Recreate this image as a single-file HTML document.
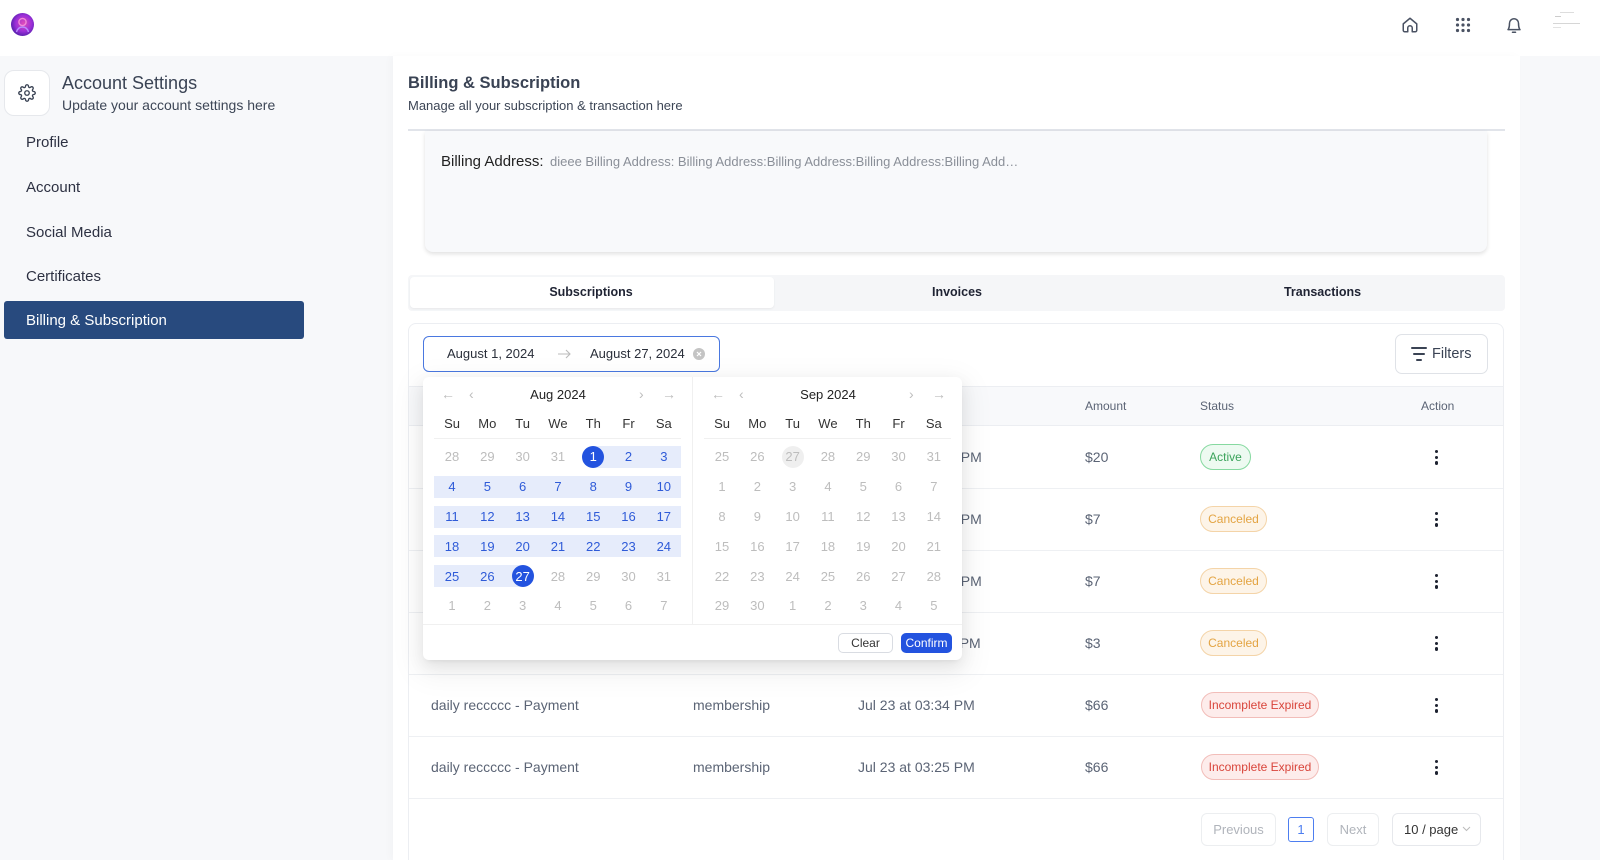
<!DOCTYPE html>
<html><head><meta charset="utf-8"><style>
*{box-sizing:border-box;margin:0;padding:0}
html,body{width:1600px;height:860px;overflow:hidden}
body{background:#f7f8fa;font-family:"Liberation Sans",Arial,sans-serif;color:#333c4e}
#root{position:relative;width:1600px;height:860px;overflow:hidden;background:#f7f8fa}
.a{position:absolute;white-space:nowrap}
.t{position:absolute;white-space:nowrap;line-height:20px;height:20px}
.g{position:absolute;display:grid;grid-template-columns:repeat(7,35.3px);grid-auto-rows:29.8px;font-size:13px;color:#bdbdbd}
.g span{display:flex;align-items:center;justify-content:center}
.g .b{color:#2f5bd8}
.sel{width:22px;height:22px;border-radius:50%;background:#2353df;color:#fff;display:flex;align-items:center;justify-content:center;font-style:normal}
.tod{width:22px;height:22px;border-radius:50%;background:#efefef;color:#bdbdbd;display:flex;align-items:center;justify-content:center;font-style:normal}
.wk{position:absolute;display:grid;grid-template-columns:repeat(7,35.3px);height:30px;font-size:13px;color:#333}
.wk span{display:flex;align-items:center;justify-content:center}
.bar{position:absolute;height:22px;background:#e6ecfb}
.hd{position:absolute;font-size:12px;color:#5b6475;line-height:20px;top:396px}
.cell{position:absolute;font-size:14px;color:#5b6475;line-height:20px}
.badge{position:absolute;height:26px;border-radius:13px;font-size:12px;line-height:24px;text-align:center;border:1px solid}
.act{border-color:#86d9a0;background:#edfaf1;color:#3aa35a}
.can{border-color:#f4d4a8;background:#fdf4e8;color:#e3a443}
.inc{border-color:#f2bdb9;background:#fdeceb;color:#d9453b}
.dots{position:absolute;width:4px;left:1434.5px}
.dots i{display:block;width:3.4px;height:3.4px;border-radius:50%;background:#1d2230;margin-bottom:2.3px}
.rl{position:absolute;left:409px;width:1094px;height:1px;background:#eef0f3}
.nav{position:absolute;font-size:14px;color:#bdbdbd;line-height:16px}
</style></head><body><div id="root">

<!-- top header -->
<div class="a" style="left:0;top:0;width:1600px;height:56px;background:#fff"></div>
<div class="a" style="left:11px;top:13px;width:23px;height:23px;border-radius:50%;background:radial-gradient(circle at 55% 45%,#e04ab8 0%,#9b2fd8 45%,#3a1a9a 85%,#23105e 100%)"></div>
<svg class="a" style="left:10px;top:12px" width="25" height="25" viewBox="0 0 25 25"><circle cx="12.5" cy="10" r="3.6" fill="none" stroke="#f08ad8" stroke-width="1.4"/><path d="M6.5 20c1-3.5 3.3-5 6-5s5 1.5 6 5" fill="none" stroke="#b98cff" stroke-width="1.4"/></svg>

<svg class="a" style="left:1401px;top:16px" width="18" height="18" viewBox="0 0 24 24" fill="none" stroke="#4a5263" stroke-width="2" stroke-linejoin="round" stroke-linecap="round"><path d="M3 10.5 12 3l9 7.5V19a2 2 0 0 1-2 2h-4v-5a3 3 0 0 0-6 0v5H5a2 2 0 0 1-2-2z"/></svg>
<svg class="a" style="left:1455px;top:17px" width="16" height="16" viewBox="0 0 16 16" fill="#4a5263"><circle cx="2.5" cy="2.5" r="1.6"/><circle cx="8" cy="2.5" r="1.6"/><circle cx="13.5" cy="2.5" r="1.6"/><circle cx="2.5" cy="8" r="1.6"/><circle cx="8" cy="8" r="1.6"/><circle cx="13.5" cy="8" r="1.6"/><circle cx="2.5" cy="13.5" r="1.6"/><circle cx="8" cy="13.5" r="1.6"/><circle cx="13.5" cy="13.5" r="1.6"/></svg>
<svg class="a" style="left:1505px;top:16px" width="18" height="19" viewBox="0 0 24 24" fill="none" stroke="#4a5263" stroke-width="2" stroke-linecap="round" stroke-linejoin="round"><path d="M18 9A6 6 0 0 0 6 9c0 6.5-2 8.5-2 8.5h16s-2-2-2-8.5"/><path d="M10 21h4"/></svg>
<div class="a" style="left:1560px;top:12px;width:14px;height:1px;background:#ddd"></div>
<div class="a" style="left:1555px;top:16px;width:6px;height:1px;background:#ccc"></div>
<div class="a" style="left:1553px;top:23px;width:27px;height:1px;background:#d6d6d6"></div>
<div class="a" style="left:1553px;top:27px;width:8px;height:1px;background:#e2e2e2"></div>

<!-- sidebar -->
<div class="a" style="left:4px;top:70px;width:46px;height:46px;border-radius:10px;background:#fff;border:1px solid #e6e8ec"></div>
<svg class="a" style="left:18px;top:84px" width="18" height="18" viewBox="0 0 24 24" fill="none" stroke="#3a4354" stroke-width="1.8" stroke-linecap="round" stroke-linejoin="round"><circle cx="12" cy="12" r="3"/><path d="M19.4 15a1.65 1.65 0 0 0 .33 1.82l.06.06a2 2 0 0 1 0 2.83 2 2 0 0 1-2.83 0l-.06-.06a1.65 1.65 0 0 0-1.82-.33 1.65 1.65 0 0 0-1 1.51V21a2 2 0 0 1-2 2 2 2 0 0 1-2-2v-.09A1.65 1.65 0 0 0 9 19.4a1.65 1.65 0 0 0-1.82.33l-.06.06a2 2 0 0 1-2.83 0 2 2 0 0 1 0-2.83l.06-.06a1.65 1.65 0 0 0 .33-1.82 1.65 1.65 0 0 0-1.51-1H3a2 2 0 0 1-2-2 2 2 0 0 1 2-2h.09A1.65 1.65 0 0 0 4.6 9a1.65 1.65 0 0 0-.33-1.82l-.06-.06a2 2 0 0 1 0-2.83 2 2 0 0 1 2.83 0l.06.06a1.65 1.65 0 0 0 1.82.33H9a1.65 1.65 0 0 0 1-1.51V3a2 2 0 0 1 2-2 2 2 0 0 1 2 2v.09a1.65 1.65 0 0 0 1 1.51 1.65 1.65 0 0 0 1.82-.33l.06-.06a2 2 0 0 1 2.83 0 2 2 0 0 1 0 2.83l-.06.06a1.65 1.65 0 0 0-.33 1.82V9a1.65 1.65 0 0 0 1.51 1H21a2 2 0 0 1 2 2 2 2 0 0 1-2 2h-.09a1.65 1.65 0 0 0-1.51 1z"/></svg>
<div class="t" style="left:62px;top:73px;font-size:18px;color:#3a4354">Account Settings</div>
<div class="t" style="left:62px;top:95px;font-size:14px;color:#3d4656">Update your account settings here</div>
<div class="t" style="left:26px;top:133px;font-size:15px;color:#2d3142">Profile</div>
<div class="t" style="left:26px;top:177.5px;font-size:15px;color:#2d3142">Account</div>
<div class="t" style="left:26px;top:222.5px;font-size:15px;color:#2d3142">Social Media</div>
<div class="t" style="left:26px;top:267px;font-size:15px;color:#2d3142">Certificates</div>
<div class="a" style="left:4px;top:301px;width:300px;height:38px;background:#284a7e;border-radius:3px"></div>
<div class="t" style="left:26px;top:311px;font-size:15px;color:#fff">Billing &amp; Subscription</div>

<!-- main panel -->
<div class="a" style="left:393px;top:56px;width:1127px;height:804px;background:#fff;box-shadow:-3px 0 8px rgba(0,0,0,0.025)"></div>
<div class="t" style="left:408px;top:73px;font-size:16.5px;font-weight:bold;color:#3a4354">Billing &amp; Subscription</div>
<div class="t" style="left:408px;top:96px;font-size:13px;color:#3d4656">Manage all your subscription &amp; transaction here</div>
<div class="a" style="left:408px;top:129px;width:1097px;height:2px;background:#e1e4ea"></div>

<div class="a" style="left:425px;top:131px;width:1062px;height:121px;background:#f8f9fb;border-radius:0 0 8px 8px;box-shadow:0 2px 4px rgba(0,0,0,0.12)"></div>
<div class="t" style="left:441px;top:152px;font-size:15px;color:#222">Billing Address:</div>
<div class="t" style="left:550px;top:152px;font-size:13px;color:#8a8f98;width:470px;overflow:hidden;text-overflow:ellipsis">dieee Billing Address: Billing Address:Billing Address:Billing Address:Billing Address:Billing Address</div>

<!-- tabs -->
<div class="a" style="left:408px;top:275px;width:1097px;height:36px;background:#f5f6f8;border-radius:4px"></div>
<div class="a" style="left:410px;top:277px;width:364px;height:31px;background:#fff;border-radius:4px;box-shadow:0 1px 2px rgba(0,0,0,0.06)"></div>
<div class="t" style="left:408px;top:282px;width:366px;text-align:center;font-size:12.5px;font-weight:bold;color:#1f2333">Subscriptions</div>
<div class="t" style="left:774px;top:282px;width:366px;text-align:center;font-size:12.5px;font-weight:bold;color:#1f2333">Invoices</div>
<div class="t" style="left:1140px;top:282px;width:365px;text-align:center;font-size:12.5px;font-weight:bold;color:#1f2333">Transactions</div>

<!-- table card -->
<div class="a" style="left:408px;top:323px;width:1096px;height:537px;border:1px solid #eceef2;border-bottom:none;border-radius:8px 8px 0 0;background:#fff"></div>
<div class="a" style="left:1395px;top:334px;width:93px;height:40px;border:1px solid #dfe2e7;border-radius:7px;background:#fff"></div>
<div class="a" style="left:1411px;top:347px;width:16px;height:2px;background:#3a4354;border-radius:1px"></div>
<div class="a" style="left:1413px;top:353px;width:12px;height:2px;background:#3a4354;border-radius:1px"></div>
<div class="a" style="left:1416px;top:359px;width:6px;height:2px;background:#3a4354;border-radius:1px"></div>
<div class="t" style="left:1432px;top:344px;font-size:14.5px;color:#3a4354">Filters</div>

<div class="a" style="left:409px;top:386px;width:1094px;height:40px;background:#f8f9fb;border-top:1px solid #eceef2;border-bottom:1px solid #eceef2"></div>
<div class="hd" style="left:431px">Name</div>
<div class="hd" style="left:693px">Type</div>
<div class="hd" style="left:858px">Date</div>
<div class="hd" style="left:1085px">Amount</div>
<div class="hd" style="left:1200px">Status</div>
<div class="hd" style="left:1421px">Action</div>

<div class="rl" style="top:488px"></div>
<div class="rl" style="top:550px"></div>
<div class="rl" style="top:612px"></div>
<div class="rl" style="top:674px"></div>
<div class="rl" style="top:736px"></div>
<div class="rl" style="top:798px"></div>

<!-- rows -->
<div class="cell" style="left:431px;top:447px">daily reccccc - Payment</div>
<div class="cell" style="left:693px;top:447px">membership</div>
<div class="cell" style="left:858px;top:447px">Aug 27 at 10:14 PM</div>
<div class="cell" style="left:1085px;top:447px">$20</div>
<div class="badge act" style="left:1200px;top:444px;width:51px">Active</div>
<div class="dots" style="top:450px"><i></i><i></i><i></i></div>

<div class="cell" style="left:431px;top:509px">daily reccccc - Payment</div>
<div class="cell" style="left:693px;top:509px">membership</div>
<div class="cell" style="left:858px;top:509px">Aug 27 at 10:12 PM</div>
<div class="cell" style="left:1085px;top:509px">$7</div>
<div class="badge can" style="left:1200px;top:506px;width:67px">Canceled</div>
<div class="dots" style="top:512px"><i></i><i></i><i></i></div>

<div class="cell" style="left:431px;top:571px">daily reccccc - Payment</div>
<div class="cell" style="left:693px;top:571px">membership</div>
<div class="cell" style="left:858px;top:571px">Aug 27 at 10:10 PM</div>
<div class="cell" style="left:1085px;top:571px">$7</div>
<div class="badge can" style="left:1200px;top:568px;width:67px">Canceled</div>
<div class="dots" style="top:574px"><i></i><i></i><i></i></div>

<div class="cell" style="left:431px;top:633px">daily reccccc - Payment</div>
<div class="cell" style="left:693px;top:633px">membership</div>
<div class="cell" style="left:858px;top:633px">Aug 26 at 11:10 PM</div>
<div class="cell" style="left:1085px;top:633px">$3</div>
<div class="badge can" style="left:1200px;top:630px;width:67px">Canceled</div>
<div class="dots" style="top:636px"><i></i><i></i><i></i></div>

<div class="cell" style="left:431px;top:695px">daily reccccc - Payment</div>
<div class="cell" style="left:693px;top:695px">membership</div>
<div class="cell" style="left:858px;top:695px">Jul 23 at 03:34 PM</div>
<div class="cell" style="left:1085px;top:695px">$66</div>
<div class="badge inc" style="left:1201px;top:692px;width:118px">Incomplete Expired</div>
<div class="dots" style="top:698px"><i></i><i></i><i></i></div>

<div class="cell" style="left:431px;top:757px">daily reccccc - Payment</div>
<div class="cell" style="left:693px;top:757px">membership</div>
<div class="cell" style="left:858px;top:757px">Jul 23 at 03:25 PM</div>
<div class="cell" style="left:1085px;top:757px">$66</div>
<div class="badge inc" style="left:1201px;top:754px;width:118px">Incomplete Expired</div>
<div class="dots" style="top:760px"><i></i><i></i><i></i></div>

<!-- pagination -->
<div class="a" style="left:1201px;top:813px;width:75px;height:33px;border:1px solid #eceef0;border-radius:6px;font-size:13px;color:#b0b4bb;line-height:31px;text-align:center">Previous</div>
<div class="a" style="left:1288px;top:817px;width:26px;height:25px;border:1px solid #4d7ef0;border-radius:3px;font-size:13px;color:#4d7ef0;line-height:23px;text-align:center">1</div>
<div class="a" style="left:1327px;top:813px;width:52px;height:33px;border:1px solid #eceef0;border-radius:6px;font-size:13px;color:#b0b4bb;line-height:31px;text-align:center">Next</div>
<div class="a" style="left:1392px;top:813px;width:89px;height:33px;border:1px solid #e6e8ec;border-radius:6px;font-size:13px;color:#333;line-height:31px;padding-left:11px">10 / page</div>
<svg class="a" style="left:1462px;top:826px" width="9" height="6" viewBox="0 0 9 6"><path d="M1 1l3.5 3.5L8 1" fill="none" stroke="#bbb" stroke-width="1"/></svg>

<!-- date range input -->
<div class="a" style="left:423px;top:336px;width:297px;height:36px;border:1px solid #4a78e0;border-radius:6px;background:#fff"></div>
<div class="t" style="left:447px;top:344px;font-size:13px;color:#2a2f3a">August 1, 2024</div>
<svg class="a" style="left:557px;top:349px" width="14" height="10" viewBox="0 0 14 10"><path d="M1 5h12M9 1l4 4-4 4" fill="none" stroke="#bbb" stroke-width="1.1"/></svg>
<div class="t" style="left:590px;top:344px;font-size:13px;color:#2a2f3a">August 27, 2024</div>
<div class="a" style="left:693px;top:348px;width:12px;height:12px;border-radius:50%;background:#c4c4c4"></div>
<svg class="a" style="left:693px;top:348px" width="12" height="12" viewBox="0 0 12 12"><path d="M4 4l4 4M8 4l-4 4" stroke="#fff" stroke-width="1.2"/></svg>

<!-- calendar popup -->
<div class="a" style="left:423px;top:377px;width:539px;height:283px;background:#fff;border-radius:6px;box-shadow:0 6px 16px 0 rgba(0,0,0,.08),0 3px 6px -4px rgba(0,0,0,.12),0 9px 28px 8px rgba(0,0,0,.05)"></div>
<div class="a" style="left:692px;top:377px;width:1px;height:247px;background:#f0f0f0"></div>
<div class="a" style="left:423px;top:624px;width:539px;height:1px;background:#f0f0f0"></div>
<div class="a" style="left:434px;top:438px;width:247px;height:1px;background:#f0f0f0"></div>
<div class="a" style="left:704px;top:438px;width:247px;height:1px;background:#f0f0f0"></div>

<div class="nav" style="left:441px;top:386px">&#8592;</div>
<div class="nav" style="left:469px;top:386px">&#8249;</div>
<div class="t" style="left:508px;top:385px;width:100px;text-align:center;font-size:13px;color:#222">Aug 2024</div>
<div class="nav" style="left:639px;top:386px">&#8250;</div>
<div class="nav" style="left:662px;top:386px">&#8594;</div>

<div class="nav" style="left:711px;top:386px">&#8592;</div>
<div class="nav" style="left:739px;top:386px">&#8249;</div>
<div class="t" style="left:778px;top:385px;width:100px;text-align:center;font-size:13px;color:#222">Sep 2024</div>
<div class="nav" style="left:909px;top:386px">&#8250;</div>
<div class="nav" style="left:932px;top:386px">&#8594;</div>

<div class="wk" style="left:434.4px;top:408px"><span>Su</span><span>Mo</span><span>Tu</span><span>We</span><span>Th</span><span>Fr</span><span>Sa</span></div>
<div class="wk" style="left:704.4px;top:408px"><span>Su</span><span>Mo</span><span>Tu</span><span>We</span><span>Th</span><span>Fr</span><span>Sa</span></div>

<div class="bar" style="left:593px;top:446px;width:88px"></div>
<div class="bar" style="left:434px;top:476px;width:247px"></div>
<div class="bar" style="left:434px;top:506px;width:247px"></div>
<div class="bar" style="left:434px;top:535px;width:247px"></div>
<div class="bar" style="left:434px;top:565px;width:88px"></div>

<div class="g" style="left:434.4px;top:442px">
<span>28</span><span>29</span><span>30</span><span>31</span><span><i class="sel">1</i></span><span class="b">2</span><span class="b">3</span>
<span class="b">4</span><span class="b">5</span><span class="b">6</span><span class="b">7</span><span class="b">8</span><span class="b">9</span><span class="b">10</span>
<span class="b">11</span><span class="b">12</span><span class="b">13</span><span class="b">14</span><span class="b">15</span><span class="b">16</span><span class="b">17</span>
<span class="b">18</span><span class="b">19</span><span class="b">20</span><span class="b">21</span><span class="b">22</span><span class="b">23</span><span class="b">24</span>
<span class="b">25</span><span class="b">26</span><span><i class="sel">27</i></span><span>28</span><span>29</span><span>30</span><span>31</span>
<span>1</span><span>2</span><span>3</span><span>4</span><span>5</span><span>6</span><span>7</span>
</div>
<div class="g" style="left:704.4px;top:442px">
<span>25</span><span>26</span><span><i class="tod">27</i></span><span>28</span><span>29</span><span>30</span><span>31</span>
<span>1</span><span>2</span><span>3</span><span>4</span><span>5</span><span>6</span><span>7</span>
<span>8</span><span>9</span><span>10</span><span>11</span><span>12</span><span>13</span><span>14</span>
<span>15</span><span>16</span><span>17</span><span>18</span><span>19</span><span>20</span><span>21</span>
<span>22</span><span>23</span><span>24</span><span>25</span><span>26</span><span>27</span><span>28</span>
<span>29</span><span>30</span><span>1</span><span>2</span><span>3</span><span>4</span><span>5</span>
</div>

<div class="a" style="left:838px;top:633px;width:55px;height:20px;border:1px solid #d9dce2;border-radius:5px;font-size:12px;color:#333;line-height:18px;text-align:center">Clear</div>
<div class="a" style="left:901px;top:633px;width:51px;height:20px;background:#2353df;border-radius:5px;font-size:12px;color:#fff;line-height:20px;text-align:center">Confirm</div>

</div></body></html>
